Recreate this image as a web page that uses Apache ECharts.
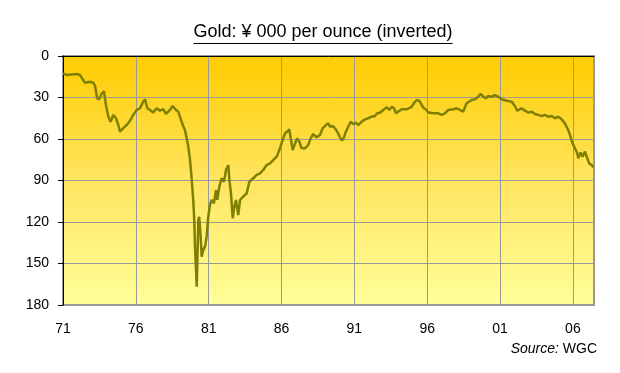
<!DOCTYPE html>
<html>
<head>
<meta charset="utf-8">
<script src="https://cdn.jsdelivr.net/npm/echarts@6/dist/echarts.min.js"></script>
<style>
html,body{margin:0;padding:0;background:#fff;}
#c{width:620px;height:373px;}
</style>
</head>
<body>
<div id="c"></div>
<script>
// Decimal years (month positions)
var dates = [1971.0,1971.25,1971.6,1971.94,1972.17,1972.35,1972.51,1972.85,1973.08,1973.2,1973.35,1973.49,1973.66,1973.81,1973.95,
1974.11,1974.27,1974.45,1974.64,1974.8,1974.91,1975.14,1975.37,1975.6,1975.82,1976.06,1976.28,1976.51,1976.63,1976.79,1976.97,
1977.2,1977.43,1977.66,1977.88,1978.07,1978.34,1978.53,1978.76,1978.91,1979.03,1979.22,1979.37,1979.49,1979.6,1979.72,1979.83,
1979.94,1980.01,1980.06,1980.13,1980.18,1980.24,1980.29,1980.35,1980.45,1980.52,1980.63,1980.75,1980.86,1980.97,1981.09,1981.2,
1981.36,1981.5,1981.59,1981.73,1981.89,1982.05,1982.19,1982.35,1982.42,1982.53,1982.65,1982.74,1982.87,1983.03,1983.15,1983.37,
1983.61,1983.79,1984.06,1984.29,1984.52,1984.75,1984.98,1985.21,1985.43,1985.67,1985.85,1986.08,1986.24,1986.39,1986.53,1986.63,
1986.77,1986.93,1987.08,1987.22,1987.38,1987.61,1987.84,1988.0,1988.18,1988.41,1988.64,1988.82,1989.05,1989.21,1989.33,1989.51,
1989.67,1989.83,1990.01,1990.15,1990.29,1990.42,1990.58,1990.75,1990.92,1991.11,1991.27,1991.5,1991.73,1991.95,1992.19,1992.41,
1992.57,1992.76,1992.98,1993.22,1993.4,1993.56,1993.72,1993.86,1994.01,1994.25,1994.59,1994.93,1995.11,1995.28,1995.45,1995.62,
1995.78,1995.96,1996.07,1996.42,1996.76,1996.99,1997.22,1997.44,1997.79,1998.02,1998.25,1998.47,1998.71,1999.05,1999.28,1999.5,
1999.67,1999.85,2000.03,2000.19,2000.42,2000.65,2000.88,2001.11,2001.45,2001.8,2002.02,2002.18,2002.48,2002.71,2002.94,2003.17,
2003.4,2003.62,2003.86,2004.08,2004.31,2004.54,2004.77,2005.0,2005.23,2005.45,2005.68,2005.84,2005.98,2006.14,2006.3,2006.37,
2006.53,2006.67,2006.83,2006.99,2007.12,2007.29,2007.4];

// Gold price, thousand yen per ounce
var goldYen = [12.5,13.7,13.3,13,13.7,16.8,19.3,18.6,19.3,21.7,30.6,31.3,27,25.7,35.4,
43.9,47.5,42.6,45,49.9,54.7,52.2,49.9,46.8,42.6,39,37.8,33,31.3,37.8,39,
40.9,37.8,39.5,38.5,41.9,39,36.1,39,40.2,43.9,49.9,53.5,59.5,65.5,75.2,88.4,
104,118.6,137.8,154.7,166.8,140,118.6,116.2,130.6,145,140.2,137.8,130.6,116.2,107.7,104,
106.5,96.9,104,94.5,88.4,90.9,82.4,78.8,89.6,99.3,117.3,110.1,104.1,115,104.1,101.7,
99.3,90.9,88.4,86,84.8,82.4,78.8,77.6,75.2,72.8,68,60.7,55.9,54.7,53,59.5,
68,63.1,59.5,61.9,66.7,66.7,64.3,59.5,56.4,58.8,57.1,52.3,49.9,48.7,51.1,50.6,
52.3,54.7,58.8,61.2,58.8,54.7,51.1,47.5,49.2,48.2,49.9,47.5,45.8,45,43.9,43.4,
41.4,41,39,37.1,39,36.7,37.8,41.4,40.2,38.5,38.5,36.7,33.8,31.8,32.3,35.4,
37.8,39,40.9,41.4,41.4,42.6,41.4,39,38.5,37.8,39,40.2,34.2,31.8,31.3,29.4,
27.4,29.4,30.6,28.9,29.4,28.2,29.4,31.3,32.3,33,36.1,39.5,37.8,39.5,40.9,40.2,
41.9,42.6,43.4,42.6,43.9,43.4,45,43.9,45.8,48.7,53.5,58.3,63.1,66.7,70.3,73.9,
69.8,72.8,69.1,73.9,77.6,78.8,80.4];

var baseYear = 1971;
var endYear = 2007.45;
var xTickLabels = ['71','76','81','86','91','96','01','06'];
var yTicks = [0, 30, 60, 90, 120, 150, 180];

var titleText = 'Gold: ¥ 000 per ounce (inverted)';
var FONT = '"Liberation Sans", Arial, sans-serif';

var seriesData = dates.map(function (d, i) { return [d - baseYear, goldYen[i]]; });

var cv = document.createElement('canvas').getContext('2d');
cv.font = '18px "Liberation Sans"';
var tw = cv.measureText(titleText).width;
var tcx = 323;

var chart = echarts.init(document.getElementById('c'), null, {renderer: 'canvas'});
chart.setOption({
  animation: false,
  backgroundColor: '#ffffff',
  title: [{
    text: titleText,
    left: tcx, textAlign: 'center', top: 23,
    padding: 0,
    textStyle: {fontFamily: FONT, fontSize: 18, fontWeight: 'normal', color: '#000'}
  }, {
    text: '{i|Source:} {n|WGC}',
    right: 23, top: 342, padding: 0,
    textStyle: {
      fontFamily: FONT, fontSize: 14, fontWeight: 'normal', color: '#000',
      rich: {
        i: {fontFamily: FONT, fontSize: 14, fontStyle: 'italic', color: '#000'},
        n: {fontFamily: FONT, fontSize: 14, color: '#000'}
      }
    }
  }],
  graphic: [{
    type: 'line',
    shape: {x1: tcx - tw / 2, y1: 43.5, x2: tcx + tw / 2, y2: 43.5},
    style: {stroke: '#000', lineWidth: 1},
    silent: true
  }],
  grid: {
    left: 63, top: 56, right: 26, bottom: 68,
    show: true,
    borderColor: '#999999', borderWidth: 2,
    backgroundColor: {
      type: 'linear', x: 0, y: 0, x2: 0, y2: 1,
      colorStops: [
        {offset: 0, color: '#FFCC00'},
        {offset: 0.5, color: '#FFE560'},
        {offset: 1, color: '#FFFF99'}
      ]
    }
  },
  xAxis: [{
    type: 'value', position: 'bottom',
    min: 0, max: endYear - baseYear, interval: 5,
    axisLine: {show: false, onZero: false},
    axisTick: {show: false},
    axisLabel: {
      show: true, margin: 17, showMaxLabel: false,
      fontFamily: FONT, fontSize: 14, color: '#000',
      formatter: function (v) {
        var k = Math.round(v / 5);
        if (Math.abs(v - k * 5) > 1e-6) return '';
        return xTickLabels[k] || '';
      }
    },
    splitLine: {show: true, lineStyle: {color: '#999999', width: 1}}
  }, {
    type: 'value', position: 'top',
    min: 0, max: endYear - baseYear, interval: 5,
    axisLine: {show: true, onZero: false, lineStyle: {color: '#000', width: 1}},
    axisTick: {show: false},
    axisLabel: {show: false},
    splitLine: {show: false}
  }],
  yAxis: {
    type: 'value', inverse: true,
    min: yTicks[0], max: yTicks[yTicks.length - 1], interval: 30,
    axisLine: {show: true, onZero: false, lineStyle: {color: '#000', width: 1}},
    axisTick: {show: true, length: 5, lineStyle: {color: '#000'}},
    axisLabel: {margin: 14, fontFamily: FONT, fontSize: 14, color: '#000'},
    splitLine: {show: true, lineStyle: {color: '#999999', width: 1}}
  },
  series: [{
    type: 'line',
    xAxisIndex: 0,
    data: seriesData,
    showSymbol: false,
    lineStyle: {color: '#808000', width: 2.5},
    z: 3
  }]
});
</script>
</body>
</html>
